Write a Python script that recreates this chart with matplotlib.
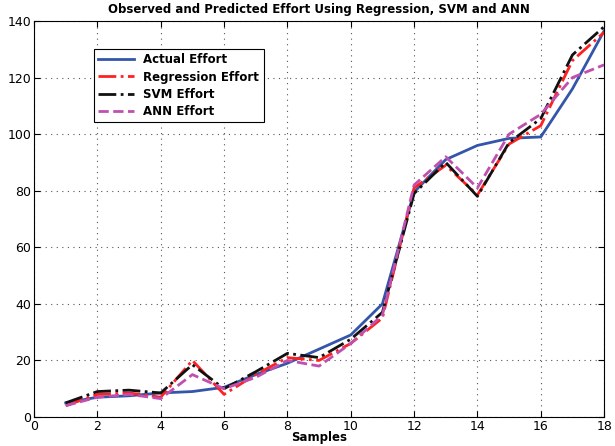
import numpy as np
import matplotlib.pyplot as plt

samples = list(range(1, 19))
actual = [5, 7, 7.5, 8.5, 9, 10.5, 15, 19, 24, 29, 40, 79.5, 91, 96, 98.5, 99, 116, 136.5]
regression = [4, 8, 8.5, 7, 20, 8, 15, 21, 20, 26, 35, 81, 89, 78.5, 96.5, 103, 126, 136]
svm = [5, 9, 9.5, 8.5, 18.5, 10, 16, 22.5, 21, 27.5, 37, 79, 90, 78, 97, 105.5, 128, 138]
ann = [4, 7, 8, 6.5, 15, 10, 14, 20, 18, 26, 36, 82, 92, 81, 100, 107, 120, 124.5]

fig = plt.figure(figsize=(6.15, 4.46), dpi=100)
ax = fig.add_axes([0.0553, 0.065, 0.927, 0.888])

ax.plot(samples, actual, color='#3355aa', lw=2, ls='-', label='Actual Effort')
ax.plot(samples, regression, color='#ff2020', lw=2, ls='-.', label='Regression Effort')
ax.plot(samples, svm, color='#111111', lw=2, ls='-.', label='SVM Effort')
ax.plot(samples, ann, color='#c050b0', lw=2, ls='--', label='ANN Effort')

ax.set_xlim(0, 18)
ax.set_ylim(0, 140)
ax.set_xticks(np.arange(0, 19, 2))
ax.set_yticks(np.arange(0, 141, 20))
ax.tick_params(direction='in', top=True, right=True, labelsize=9, length=4, pad=2)
ax.grid(True, color='#555555', ls=(0, (1, 4)), lw=0.8)

ax.set_title('Observed and Predicted Effort Using Regression, SVM and ANN',
             fontsize=8.5, fontweight='bold', pad=6)
ax.set_xlabel('Samples', fontsize=8.5, fontweight='bold', labelpad=-1)

leg = ax.legend(loc='upper left', bbox_to_anchor=(0.094, 0.945),
                prop={'weight': 'bold', 'size': 8.5}, fancybox=False,
                edgecolor='black', framealpha=1, handlelength=3.0,
                labelspacing=0.35, borderpad=0.4)
leg.get_frame().set_linewidth(0.8)

plt.savefig('out.png', dpi=100)
